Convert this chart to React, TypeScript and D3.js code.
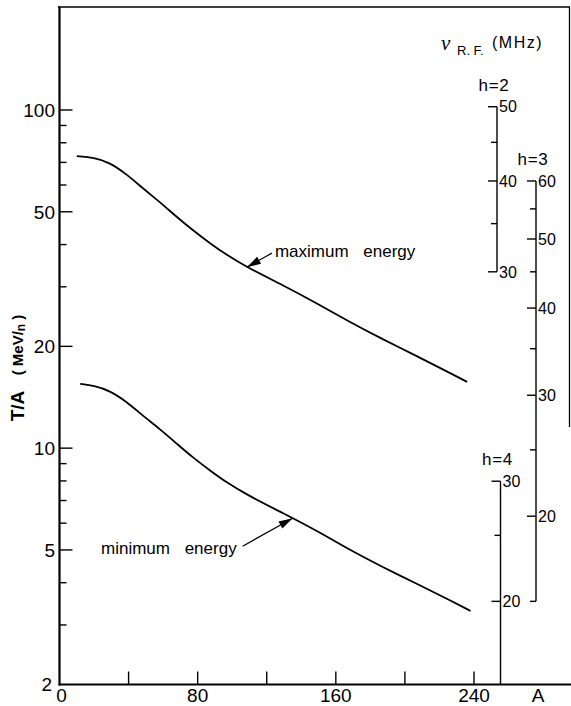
import React from "react";
import * as d3 from "d3";

// ---- data ----
const maxA = [10, 20, 29, 39, 48, 58, 68, 77, 87, 97, 108, 130, 149, 168, 187, 207, 226, 236];
const maxT = [73, 72.3, 70, 64.5, 58.8, 53.5, 48.2, 44.2, 40.4, 37.2, 34.4, 30.2, 26.8, 23.6, 21.0, 18.7, 16.7, 15.7];
const minA = [12, 20, 29, 39, 48, 58, 68, 77, 87, 97, 108, 130, 149, 168, 187, 207, 226, 238];
const minT = [15.5, 15.3, 14.8, 13.7, 12.5, 11.4, 10.3, 9.4, 8.6, 7.9, 7.3, 6.4, 5.7, 5.0, 4.45, 3.97, 3.55, 3.3];

const xTicks = [40, 80, 120, 160, 200, 240];
const xLabels = [0, 80, 160, 240];
const yMajor = [100, 50, 20, 10, 5];
const yMinor = [90, 80, 70, 60, 40, 30, 9, 8, 7, 6, 4, 3];
const yLabels = [100, 50, 20, 10, 5, 2];

// RF harmonic scales: frequency (MHz) -> T/A via beta = nu*C/(h*c)
const circumference = 5.2; // m
const cLight = 299.79; // m/us
const amu = 931.5; // MeV
const harmonics = [
  { h: 2, top: 50, bottom: 30, major: [30, 40, 50], minor: [35, 45], xLine: 497 },
  { h: 3, top: 60, bottom: 15, major: [20, 30, 40, 50, 60], minor: [15, 25, 35, 45, 55], xLine: 536 },
  { h: 4, top: 30, bottom: 15, major: [20, 30], minor: [25], xLine: 500.5 },
];

const freqToTA = (nu: number, h: number) => {
  const beta = (nu * circumference) / (h * cLight);
  const gamma = 1 / Math.sqrt(1 - beta * beta);
  return amu * (gamma - 1);
};

const FONT = "'Liberation Sans', Arial, Helvetica, sans-serif";

export default function App() {
  const W = 571;
  const H = 706;
  const xScale = d3.scaleLinear().domain([0, 240]).range([59.5, 474]);
  const yScale = d3.scaleLog().domain([2, 100]).range([684.5, 110]);
  const x0 = xScale(0);
  const yBot = yScale(2);

  const line = d3
    .line<[number, number]>()
    .x((d) => xScale(d[0]))
    .y((d) => yScale(d[1]))
    .curve(d3.curveBasis);

  const maxPts = maxA.map((a, i) => [a, maxT[i]] as [number, number]);
  const minPts = minA.map((a, i) => [a, minT[i]] as [number, number]);

  const interp = (pts: [number, number][], a: number) => {
    for (let i = 0; i < pts.length - 1; i++) {
      if (a >= pts[i][0] && a <= pts[i + 1][0]) {
        const t = (a - pts[i][0]) / (pts[i + 1][0] - pts[i][0]);
        return Math.exp(Math.log(pts[i][1]) * (1 - t) + Math.log(pts[i + 1][1]) * t);
      }
    }
    return pts[pts.length - 1][1];
  };

  const annotations = [
    { label: "maximum energy", pts: maxPts, a: 108.5, dx: 25, dy: -14, anchor: "start", tx: 3, ty: -1 },
    { label: "minimum energy", pts: minPts, a: 135, dx: -50, dy: 28, anchor: "end", tx: -6, ty: 3 },
  ];

  const arrow = (tipX: number, tipY: number, tailX: number, tailY: number) => {
    const ang = Math.atan2(tailY - tipY, tailX - tipX);
    const len = 14;
    const wid = 4;
    const bx = tipX + Math.cos(ang) * len;
    const by = tipY + Math.sin(ang) * len;
    const px = -Math.sin(ang) * wid;
    const py = Math.cos(ang) * wid;
    return `M${tipX},${tipY}L${bx + px},${by + py}L${bx - px},${by - py}Z`;
  };

  return (
    <svg
      width={W}
      height={H}
      style={{ position: "absolute", left: 0, top: 0, background: "#fff" }}
      fontFamily={FONT}
    >
      {/* frame */}
      <line x1={58} y1={7} x2={570} y2={7} stroke="#000" strokeWidth={1.3} />
      <line x1={569.5} y1={7} x2={569.5} y2={427} stroke="#000" strokeWidth={1.3} />
      <line x1={x0} y1={6.5} x2={x0} y2={yBot + 1} stroke="#000" strokeWidth={2.2} />
      <line x1={x0 - 1} y1={yBot} x2={W} y2={yBot} stroke="#000" strokeWidth={2.2} />

      {/* y ticks */}
      {yMajor.map((v) => (
        <line key={"ym" + v} x1={x0} x2={x0 + 13} y1={yScale(v)} y2={yScale(v)} stroke="#000" strokeWidth={1.4} />
      ))}
      {yMinor.map((v) => (
        <line key={"yn" + v} x1={x0} x2={x0 + 7} y1={yScale(v)} y2={yScale(v)} stroke="#000" strokeWidth={1.4} />
      ))}
      {yLabels.map((v) => (
        <text key={"yl" + v} x={v === 2 ? 52 : 55} y={yScale(v)} dy="0.36em" textAnchor="end" fontSize={19} fill="#000">
          {v}
        </text>
      ))}

      {/* x ticks */}
      {xTicks.map((v) => (
        <line key={"xt" + v} x1={xScale(v)} x2={xScale(v)} y1={yBot} y2={yBot - 13} stroke="#000" strokeWidth={1.4} />
      ))}
      {xLabels.map((v) => (
        <text key={"xl" + v} x={xScale(v) + (v === 0 ? 2 : 0)} y={702} textAnchor="middle" fontSize={19} fill="#000">
          {v}
        </text>
      ))}
      <text x={538} y={702} textAnchor="middle" fontSize={19} fill="#000">A</text>

      {/* y title */}
      <g transform="translate(24,406) rotate(-90)">
        <text x={0} y={0} textAnchor="middle" fontSize={19} fontWeight="bold" fill="#000">T/A</text>
      </g>
      <g transform="translate(23,345) rotate(-90)">
        <text x={0} y={0} textAnchor="middle" fontSize={15} fontWeight="bold" fill="#000">
          ( MeV/<tspan fontSize={12} dy={2}>n</tspan><tspan dy={-2}> )</tspan>
        </text>
      </g>

      {/* curves */}
      <path d={line(maxPts) || ""} fill="none" stroke="#000" strokeWidth={1.8} />
      <path d={line(minPts) || ""} fill="none" stroke="#000" strokeWidth={1.8} />

      {/* annotations */}
      {annotations.map((an) => {
        const tipX = xScale(an.a);
        const tipY = yScale(interp(an.pts, an.a));
        const tailX = tipX + an.dx;
        const tailY = tipY + an.dy;
        return (
          <g key={an.label}>
            <line x1={tipX} y1={tipY} x2={tailX} y2={tailY} stroke="#000" strokeWidth={1.2} />
            <path d={arrow(tipX, tipY, tailX, tailY)} fill="#000" />
            <text x={tailX + an.tx} y={tailY + an.ty} dy="0.3em" textAnchor={an.anchor} fontSize={17} wordSpacing={10} fill="#000">
              {an.label}
            </text>
          </g>
        );
      })}

      {/* RF scales */}
      {harmonics.map((hs) => {
        const yTop = yScale(freqToTA(hs.top, hs.h));
        const yB = hs.h === 4 ? yBot : yScale(freqToTA(hs.bottom, hs.h));
        return (
          <g key={"h" + hs.h}>
            <line x1={hs.xLine} x2={hs.xLine} y1={yTop} y2={yB} stroke="#000" strokeWidth={1.4} />
            {hs.major.map((f) => {
              const y = yScale(freqToTA(f, hs.h));
              return (
                <g key={"M" + f}>
                  <line x1={hs.xLine - 9} x2={hs.xLine} y1={y} y2={y} stroke="#000" strokeWidth={1.4} />
                  <text x={hs.xLine + 2} y={y} dy="0.36em" fontSize={16} fill="#000">{f}</text>
                </g>
              );
            })}
            {hs.minor.map((f) => {
              const y = yScale(freqToTA(f, hs.h));
              return <line key={"m" + f} x1={hs.xLine - 6} x2={hs.xLine} y1={y} y2={y} stroke="#000" strokeWidth={1.4} />;
            })}
            <text x={hs.xLine - 3} y={yTop - 22} dy="0.36em" textAnchor="middle" fontSize={17} letterSpacing={0.8} fill="#000">
              {"h=" + hs.h}
            </text>
          </g>
        );
      })}

      {/* RF title */}
      <text x={441} y={50} fontSize={21} fontStyle="italic" fontFamily="'Liberation Serif', 'DejaVu Serif', serif" fill="#000">ν</text>
      <text x={457} y={55} fontSize={13} fill="#000">R. F.</text>
      <text x={492} y={48} fontSize={16} letterSpacing={1.5} fill="#000">(MHz)</text>
    </svg>
  );
}
